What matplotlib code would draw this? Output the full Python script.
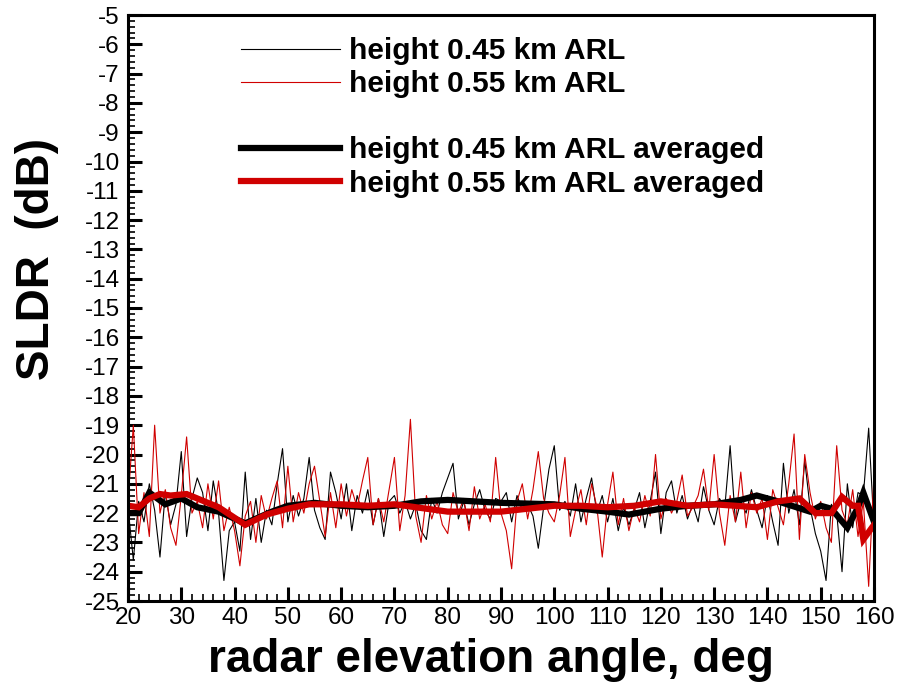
import numpy as np
import matplotlib
matplotlib.use("Agg")
import matplotlib.pyplot as plt
from matplotlib.lines import Line2D
from matplotlib.ticker import MultipleLocator

plt.rcParams['font.family'] = ['Liberation Sans', 'DejaVu Sans']
plt.rcParams['axes.unicode_minus'] = False

# elevation angles of the raw profiles, 1 deg step
angles = list(range(20, 161))

# raw SLDR, height 0.45 km ARL
sldr_045 = [
    -21.8, -23.6, -21.6, -22.3, -21.0, -21.9, -23.5, -21.3, -22.4, -21.7,
    -19.9, -22.8, -21.5, -20.8, -21.3, -22.6, -20.9, -22.0, -24.3, -22.6,
    -22.3, -23.3, -20.6, -22.9, -21.5, -23.0, -21.9, -22.4, -21.0, -19.8,
    -22.3, -21.4, -22.1, -21.5, -20.1, -21.9, -22.5, -22.9, -20.6, -21.3,
    -22.2, -21.0, -22.6, -21.4, -22.0, -21.2, -22.4, -21.5, -22.8, -21.6,
    -21.4, -22.0, -21.6, -22.2, -21.7, -22.6, -22.9, -21.5, -22.0, -21.3,
    -20.8, -20.3, -22.2, -21.6, -22.4, -21.7, -21.2, -21.9, -22.2, -21.5,
    -21.6, -21.3, -22.3, -21.4, -21.9, -21.7, -22.1, -23.2, -21.8, -20.5,
    -19.7, -21.9, -21.6, -22.1, -21.0, -22.3, -21.5, -20.8, -22.0, -21.4,
    -22.3, -21.5, -22.6, -21.8, -22.4, -21.9, -21.3, -22.5, -21.6, -20.6,
    -22.7, -21.3, -20.9, -22.0, -21.4, -22.2, -21.7, -22.3, -21.1, -21.9,
    -22.4, -21.5, -21.8, -19.7, -22.3, -21.6, -22.0, -21.2, -21.9, -22.5,
    -21.4, -22.3, -23.1, -20.3, -22.0, -21.2, -22.4, -20.2, -21.8, -22.7,
    -23.3, -24.3, -21.7, -22.0, -24.0, -21.0, -22.5, -21.3, -21.4, -19.1,
    -22.5,
]

# raw SLDR, height 0.55 km ARL
sldr_055 = [
    -21.6, -19.0, -22.7, -21.3, -22.8, -19.0, -22.0, -21.2, -22.5, -23.1,
    -21.4, -19.4, -22.0, -21.6, -22.5, -21.0, -22.2, -20.9, -22.6, -21.8,
    -22.6, -23.8, -22.1, -21.6, -23.0, -21.4, -22.2, -21.5, -20.9, -22.5,
    -20.4, -22.3, -21.3, -22.0, -21.0, -20.4, -21.6, -22.8, -21.3, -22.5,
    -21.0, -22.1, -21.2, -21.8, -20.9, -20.1, -22.4, -21.5, -22.3, -21.2,
    -20.1, -22.6, -21.4, -18.8, -22.1, -23.0, -21.4, -22.2, -21.6, -22.4,
    -22.7, -21.3, -22.0, -21.5, -22.6, -21.1, -22.2, -21.7, -22.3, -20.1,
    -22.0, -22.6, -23.9, -21.6, -21.0, -22.2, -21.2, -19.9, -21.5, -22.0,
    -22.3, -21.4, -20.1, -22.8, -21.9, -21.2, -22.4, -21.0, -21.8, -23.5,
    -21.7, -20.6, -22.4, -21.5, -22.6, -21.8, -22.3, -21.4, -22.1, -20.0,
    -22.2, -21.5, -22.0, -21.6, -20.7, -22.1, -21.8, -21.4, -20.5, -21.9,
    -20.0, -22.0, -23.1, -21.4, -22.3, -20.6, -22.5, -21.3, -22.0, -21.5,
    -22.9, -21.2, -21.8, -22.4, -21.0, -19.3, -22.9, -20.0, -21.3, -22.2,
    -21.6, -22.5, -23.0, -19.7, -21.9, -22.4, -21.2, -22.8, -21.6, -24.5,
    -20.7,
]

# averaged profiles
avg_045_x = [20, 22, 24, 27, 30, 33, 37, 42, 47, 50, 55, 60, 65, 70, 75, 80,
             90, 100, 105, 110, 114, 120, 125, 130, 135, 138, 142, 148, 150,
             152, 155, 157, 158, 160]
avg_045_y = [-22.0, -22.0, -21.3, -21.7, -21.5, -21.8, -21.95, -22.35, -21.95,
             -21.75, -21.65, -21.75, -21.8, -21.75, -21.6, -21.55, -21.65,
             -21.7, -21.85, -21.95, -22.05, -21.85, -21.75, -21.7, -21.55,
             -21.4, -21.6, -21.95, -21.75, -21.85, -22.5, -21.8, -21.3, -22.3]

avg_055_x = [20, 22, 24, 26, 28, 31, 33, 37, 42, 46, 50, 54, 60, 65, 70, 74,
             80, 90, 95, 100, 105, 110, 115, 120, 125, 130, 138, 142, 146, 149,
             152, 154, 156, 157, 158, 160]
avg_055_y = [-21.75, -21.8, -21.5, -21.35, -21.4, -21.35, -21.5, -21.8, -22.4,
             -22.05, -21.85, -21.7, -21.7, -21.75, -21.7, -21.8, -21.95, -21.95,
             -21.85, -21.75, -21.75, -21.8, -21.75, -21.6, -21.75, -21.7, -21.8,
             -21.6, -21.5, -22.0, -22.0, -21.45, -21.75, -21.75, -22.9, -22.4]

labels = ['height 0.45 km ARL', 'height 0.55 km ARL',
          'height 0.45 km ARL averaged', 'height 0.55 km ARL averaged']

RED = '#d00000'

fig = plt.figure(figsize=(9.05, 6.85), dpi=100)
ax = fig.add_axes([128 / 905, 84 / 685, 746 / 905, 586 / 685])

ax.plot(angles, sldr_045, color='black', lw=0.8)
ax.plot(angles, sldr_055, color=RED, lw=0.8)
ax.plot(avg_045_x, avg_045_y, color='black', lw=4.5, solid_joinstyle='miter')
ax.plot(avg_055_x, avg_055_y, color=RED, lw=4.5, solid_joinstyle='miter')

ax.set_xlim(20, 160)
ax.set_ylim(-25, -5)
ax.xaxis.set_major_locator(MultipleLocator(10))
ax.xaxis.set_minor_locator(MultipleLocator(2))
ax.yaxis.set_major_locator(MultipleLocator(1))
ax.yaxis.set_minor_locator(MultipleLocator(0.2))
ax.tick_params(which='both', direction='in', top=False, right=False,
               labelsize=17.5, colors='black')
ax.tick_params(axis='y', which='major', length=10, width=2.2, pad=6)
ax.tick_params(axis='y', which='minor', length=5, width=1.2)
ax.tick_params(axis='x', which='major', length=10, width=2.2, pad=4)
ax.tick_params(axis='x', which='minor', length=5, width=1.2)
for sp in ax.spines.values():
    sp.set_linewidth(2.2)

# legend (blank entry gives the gap between raw and averaged)
handles = [Line2D([], [], color='black', lw=0.8),
           Line2D([], [], color=RED, lw=0.8),
           Line2D([], [], color='none'),
           Line2D([], [], color='black', lw=4.5),
           Line2D([], [], color=RED, lw=4.5)]
leg = ax.legend(handles, [labels[0], labels[1], ' ', labels[2], labels[3]],
                loc='upper left', bbox_to_anchor=(0.1515, 0.962),
                frameon=False, borderpad=0, borderaxespad=0,
                handlelength=3.3, handletextpad=0.3, labelspacing=0.17,
                prop={'family': 'Liberation Sans', 'weight': 'bold', 'size': 21.5})

fig.text(491 / 905, 13 / 685, 'radar elevation angle, deg', ha='center',
         va='baseline', fontsize=33, fontweight='bold')
fig.text(37 / 905, 1 - 259 / 685, 'SLDR  (dB)', ha='center', va='center',
         rotation=90, fontsize=33, fontweight='bold')

fig.savefig('out.png', dpi=100)
